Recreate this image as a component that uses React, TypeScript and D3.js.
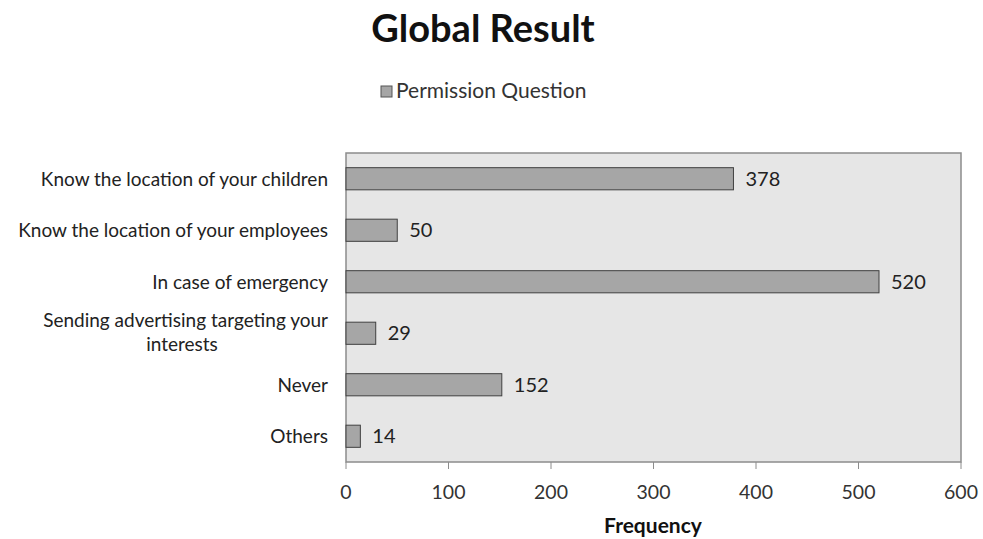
import React from "react";
import * as d3 from "d3";

const categories = [
  "Know the location of your children",
  "Know the location of your employees",
  "In case of emergency",
  "Sending advertising targeting your|interests",
  "Never",
  "Others",
];
const values = [378, 50, 520, 29, 152, 14];
const xTicks = [0, 100, 200, 300, 400, 500, 600];
const title = "Global Result";
const seriesName = "Permission Question";
const xTitle = "Frequency";

const W = 983;
const H = 539;
const FONT = "Lato, 'Open Sans', sans-serif";

export default function App() {
  const left = 346, right = 961, top = 153, bottom = 462;
  const x = d3.scaleLinear().domain([0, 600]).range([left, right]);
  const y = d3.scaleBand().domain(categories).range([top, bottom]).paddingInner(0.57).paddingOuter(0.285);

  return (
    <svg width={W} height={H} style={{ position: "absolute", left: 0, top: 0, background: "#fff" }} fontFamily={FONT}>
      <text x={483} y={42} textAnchor="middle" fontSize={38} fontWeight="bold" fill="#111">{title}</text>
      <rect x={381} y={86} width={11} height={11} fill="#a6a6a6" stroke="#555" strokeWidth={1} />
      <text x={396} y={98} fontSize={21} fill="#333">{seriesName}</text>
      <rect x={left} y={top} width={right - left} height={bottom - top} fill="#e6e6e6" stroke="#8c8c8c" strokeWidth={1.5} />
      {xTicks.map((t) => (
        <g key={t}>
          <line x1={x(t)} x2={x(t)} y1={bottom} y2={bottom + 7} stroke="#8c8c8c" />
          <text x={x(t)} y={499} textAnchor="middle" fontSize={19.5} fill="#333">{t}</text>
        </g>
      ))}
      {categories.map((c, i) => {
        const yc = (y(c) as number) + y.bandwidth() / 2;
        const lines = c.split("|");
        return (
          <g key={c}>
            <rect x={x(0)} y={y(c)} width={x(values[i]) - x(0)} height={y.bandwidth()} fill="#a6a6a6" stroke="#404040" strokeWidth={1} />
            <text x={x(values[i]) + 12} y={yc + 7} fontSize={20} fill="#222">{values[i]}</text>
            {lines.length === 1 ? (
              <text x={328} y={yc + 7} textAnchor="end" fontSize={19} fill="#222">{lines[0]}</text>
            ) : (
              <>
                <text x={328} y={yc - 6} textAnchor="end" fontSize={19} fill="#222">{lines[0]}</text>
                <text x={182} y={yc + 18} textAnchor="middle" fontSize={19} fill="#222">{lines[1]}</text>
              </>
            )}
          </g>
        );
      })}
      <text x={653} y={533} textAnchor="middle" fontSize={21} fontWeight="bold" fill="#111">{xTitle}</text>
    </svg>
  );
}
